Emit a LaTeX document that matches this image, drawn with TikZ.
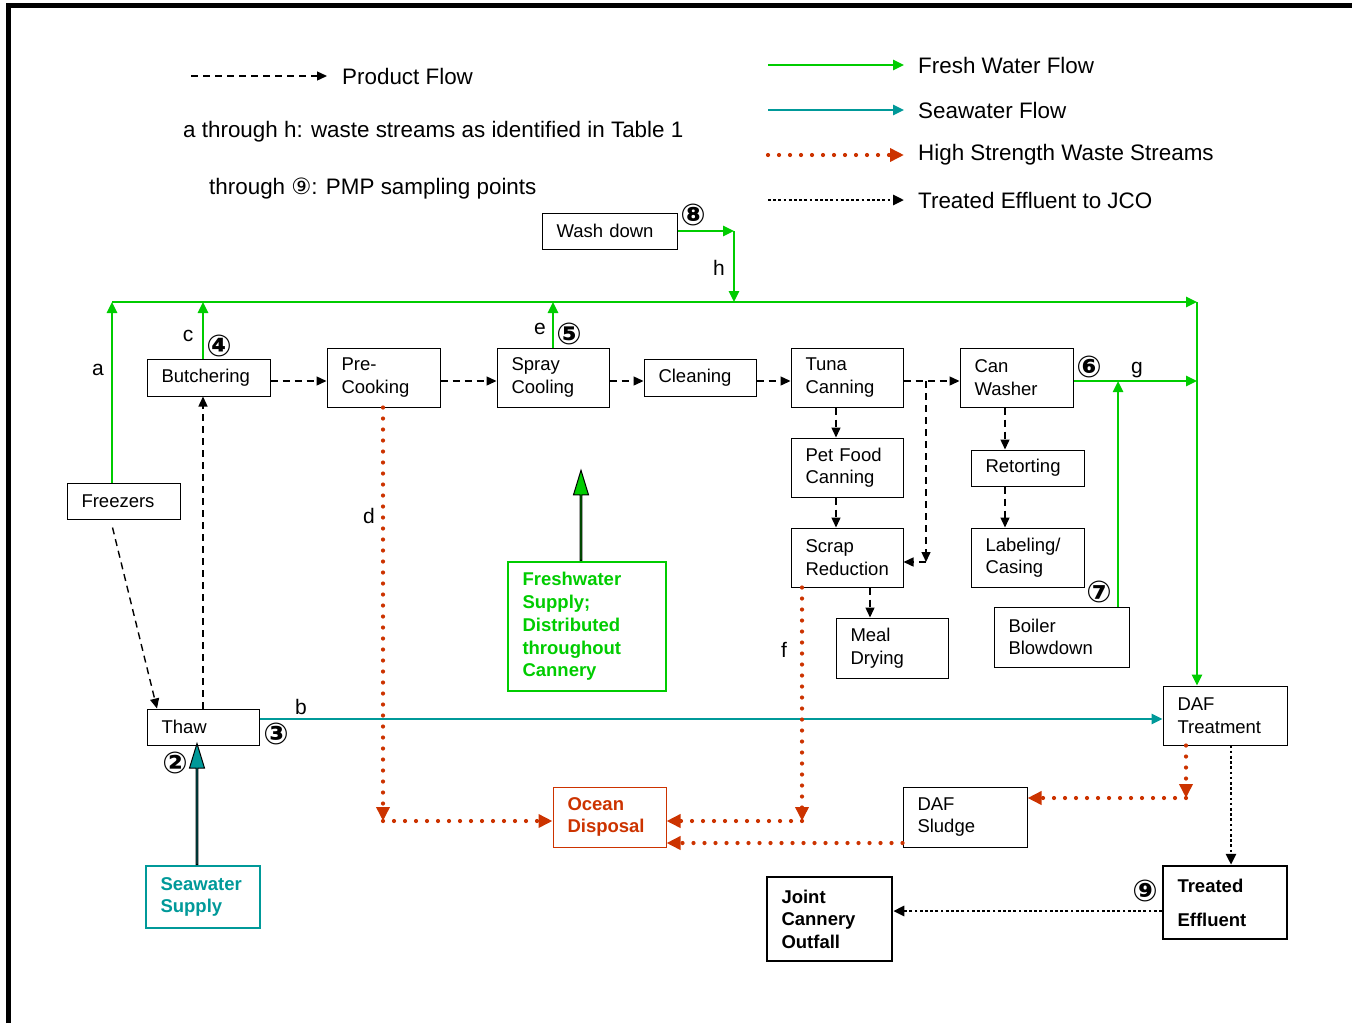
\documentclass[tikz,border=0pt]{standalone}
\usepackage{fontspec}
\setmainfont{Liberation Sans}
\newfontfamily\circfont{DejaVu Sans}
\usetikzlibrary{arrows.meta, positioning, shapes.arrows}

\definecolor{fwgreen}{RGB}{0,204,0}
\definecolor{swteal}{RGB}{0,153,153}
\definecolor{wastered}{RGB}{204,51,0}

\begin{document}
\begin{tikzpicture}[x=1pt, y=-1pt,
  box/.style={draw, line width=1pt, inner xsep=14.5pt, inner ysep=0pt, align=left, font=\fontsize{18.5}{22.5}\selectfont},
  bigbox/.style={box, line width=2.5pt, font=\bfseries\fontsize{18.5}{22.5}\selectfont},
  legtext/.style={inner sep=0pt, anchor=west, font=\fontsize{22.4}{26}\selectfont},
  lbl/.style={inner sep=0pt, font=\fontsize{21}{25}\selectfont},
  num/.style={inner sep=0pt, font=\circfont\bfseries\fontsize{30}{32}\selectfont},
  prodflow/.style={line width=1.4pt, dash pattern=on 7pt off 5pt, -{Triangle[length=10pt,width=9pt]}},
  fwflow/.style={fwgreen, line width=2.5pt, -{Triangle[length=11pt,width=10pt]}},
  swflow/.style={swteal, line width=2.5pt, -{Triangle[length=11pt,width=10pt]}},
  wasteflow/.style={wastered, line width=4.2pt, line cap=round, dash pattern=on 0pt off 11pt, -{Triangle[length=14pt,width=13pt]}},
  effflow/.style={line width=2.7pt, dash pattern=on 2.7pt off 2.5pt, -{Triangle[length=11pt,width=10pt]}},
  supply/.style={single arrow, draw, line width=1pt, shape border rotate=90, anchor=tail, inner sep=0pt, minimum width=15pt, single arrow head extend=4pt, single arrow tip angle=34}
]
\useasboundingbox (0,0) rectangle (1352,1023);
\draw[line width=5pt] (8.5,1023) -- (8.5,5.5) -- (1352,5.5);

% legend
\node[legtext] (lgProd) at (342,76) {Product Flow};
\node[legtext] (lgWaste) at (183,132) {a through h: waste streams as identified in Table 1};
\node[legtext] (lgPoints) at (209,189) {through {\circfont ⑨}: PMP sampling points};
\node[legtext] (lgFresh) at (918,65) {Fresh Water Flow};
\node[legtext] (lgSea) at (918,110) {Seawater Flow};
\node[legtext] (lgHigh) at (918,155) {High Strength Waste Streams};
\node[legtext] (lgTreat) at (918,200) {Treated Effluent to JCO};
\coordinate (lgProdS) at (191,76);
\coordinate (lgFreshS) at (768,65);
\coordinate (lgSeaS) at (768,110);
\coordinate (lgHighS) at (768,155);
\coordinate (lgTreatS) at (768,200);
\draw[prodflow] (lgProdS) -- ([xshift=-15pt]lgProd.west);
\draw[fwflow] (lgFreshS) -- ([xshift=-14pt]lgFresh.west);
\draw[swflow] (lgSeaS) -- ([xshift=-14pt]lgSea.west);
\draw[wasteflow] (lgHighS) -- ([xshift=-14pt]lgHigh.west);
\draw[effflow] (lgTreatS) -- ([xshift=-14pt]lgTreat.west);

% process boxes
\node[box, text width=106pt, minimum height=36pt] (wash) at (609.5,231) {Wash down};
\node[box, text width=94pt, minimum height=37pt] (butch) at (208.5,377.5) {Butchering};
\node[box, text width=84pt, minimum height=59pt] (precook) at (383.5,377.5) {Pre-\\Cooking};
\node[box, text width=83pt, minimum height=59pt] (spray) at (553,377.5) {Spray\\Cooling};
\node[box, text width=83pt, minimum height=37pt] (clean) at (700,377.5) {Cleaning};
\node[box, text width=83pt, minimum height=59pt] (tuna) at (847,377.5) {Tuna\\Canning};
\node[box, text width=84pt, minimum height=59pt] (canw) at (1016.5,377.5) {Can\\Washer};
\node[box, text width=83pt, minimum height=59pt] (petfood) at (847,467.5) {Pet Food\\Canning};
\node[box, text width=84pt, minimum height=36pt] (retort) at (1027.5,468) {Retorting};
\node[box, text width=83pt, minimum height=59pt] (scrap) at (847,557.5) {Scrap\\Reduction};
\node[box, text width=84pt, minimum height=59pt] (label) at (1027.5,557.5) {Labeling/\\Casing};
\node[box, text width=83pt, minimum height=60pt] (meal) at (892,648) {Meal\\Drying};
\node[box, text width=106pt, minimum height=60pt] (boiler) at (1061.5,637) {Boiler\\Blowdown};
\node[box, text width=84pt, minimum height=36pt] (freezers) at (123.5,501) {Freezers};
\node[box, text width=83pt, minimum height=36pt] (thaw) at (203,727) {Thaw};
\node[box, text width=95pt, minimum height=59pt] (daft) at (1225,715.5) {DAF\\Treatment};
\node[box, text width=95pt, minimum height=60pt] (dafs) at (965,817) {DAF\\Sludge};
\node[box, draw=wastered, text=wastered, font=\bfseries\fontsize{18.5}{22.5}\selectfont, text width=84pt, minimum height=60pt] (ocean) at (609.5,817) {Ocean\\Disposal};
\node[box, draw=swteal, line width=2pt, text=swteal, font=\bfseries\fontsize{18.5}{22.5}\selectfont, text width=85pt, minimum height=62pt] (seasup) at (203,897) {Seawater\\Supply};
\node[box, draw=fwgreen, line width=2.5pt, text=fwgreen, font=\bfseries\fontsize{18.5}{22.8}\selectfont, text width=129pt, minimum height=129pt] (fwsup) at (587,626.5) {Freshwater\\Supply;\\Distributed\\throughout\\Cannery};
\node[bigbox, font=\bfseries\fontsize{18.5}{34}\selectfont, text width=95pt, minimum height=73pt] (treated) at (1225,902.5) {Treated\\Effluent};
\node[bigbox, text width=96pt, minimum height=84pt] (jco) at (829.5,919) {Joint\\Cannery\\Outfall};

% supply arrows
\node[supply, fill=swteal, minimum height=121pt] (swarrow) at ([xshift=-6pt]seasup.north) {};
\node[supply, fill=fwgreen, minimum height=90pt] (fwarrow) at ([xshift=-6pt]fwsup.north) {};

% sampling points
\node[num] (p2) at (175,763) {②};
\node[num] (p3) at (276,734) {③};
\node[num] (p4) at (219,346) {④};
\node[num] (p5) at (569,334) {⑤};
\node[num] (p6) at (1089,367) {⑥};
\node[num] (p7) at (1099,592) {⑦};
\node[num] (p8) at (693,215) {⑧};
\node[num] (p9) at (1145,891) {⑨};

% stream letters
\node[lbl] (la) at (98,370) {a};
\node[lbl] (lb) at (301,707) {b};
\node[lbl] (lc) at (188,336) {c};
\node[lbl] (ld) at (369,516) {d};
\node[lbl] (le) at (540,329) {e};
\node[lbl] (lf) at (784,650) {f};
\node[lbl] (lg) at (1137,370) {g};
\node[lbl] (lh) at (719,268) {h};

% junction points
\coordinate (hdrL) at (112,302);
\coordinate (hdrR) at (1197,302);
\coordinate (cTop) at (203,302);
\coordinate (hDrop) at (734,302);
\coordinate (gJoin) at (1118,381);
\coordinate (bLine) at (0,719);
\coordinate (colPet) at (836,0);
\coordinate (colMeal) at (870,0);
\coordinate (colRet) at (1005,0);
\coordinate (brTop) at (926,381);
\coordinate (brBot) at (926,562);
\coordinate (dCorner) at (383,821);
\coordinate (fCorner) at (802,821);
\coordinate (sLine) at (0,843);
\coordinate (tCorner) at (1186,798);
\coordinate (effX) at (1231,0);
\coordinate (jLine) at (0,911);

% fresh water
\draw[fwflow] (hdrL) -- (hdrR);
\draw[fwflow] (hdrR) -- (daft.north -| hdrR);
\draw[fwflow] (freezers.north -| hdrL) -- (hdrL);
\draw[fwflow] (butch.north -| cTop) -- (cTop);
\draw[fwflow] (spray.north) -- (spray.north |- hdrL);
\draw[fwflow] (wash.east) -- (wash.east -| hDrop);
\draw[fwflow] (wash.east -| hDrop) -- (hDrop);
\draw[fwflow] (canw.east |- gJoin) -- (gJoin -| hdrR);
\draw[fwflow] (boiler.north -| gJoin) -- (gJoin);

% seawater
\draw[swflow] (thaw.east |- bLine) -- (daft.west |- bLine);

% product
\draw[prodflow] ([xshift=-11pt,yshift=-8pt]freezers.south) -- ([xshift=-46pt]thaw.north);
\draw[prodflow] (thaw.north -| cTop) -- (butch.south -| cTop);
\draw[prodflow] (butch.east |- brTop) -- (precook.west |- brTop);
\draw[prodflow] (precook.east |- brTop) -- (spray.west |- brTop);
\draw[prodflow] (spray.east |- brTop) -- (clean.west |- brTop);
\draw[prodflow] (clean.east |- brTop) -- (tuna.west |- brTop);
\draw[prodflow] (tuna.east |- brTop) -- (canw.west |- brTop);
\draw[prodflow] (brTop) -- (brBot);
\draw[prodflow] (brBot) -- (scrap.east |- brBot);
\draw[prodflow] (tuna.south -| colPet) -- (petfood.north -| colPet);
\draw[prodflow] (petfood.south -| colPet) -- (scrap.north -| colPet);
\draw[prodflow] (scrap.south -| colMeal) -- (meal.north -| colMeal);
\draw[prodflow] (canw.south -| colRet) -- (retort.north -| colRet);
\draw[prodflow] (retort.south -| colRet) -- (label.north -| colRet);

% high strength waste
\draw[wasteflow] (precook.south -| dCorner) -- (dCorner);
\draw[wasteflow] (dCorner) -- (ocean.west |- dCorner);
\draw[wasteflow] (scrap.south -| fCorner) -- (fCorner);
\draw[wasteflow] (fCorner) -- (ocean.east |- fCorner);
\draw[wasteflow] (dafs.west |- sLine) -- (ocean.east |- sLine);
\draw[wasteflow] (daft.south -| tCorner) -- (tCorner);
\draw[wasteflow] (tCorner) -- (dafs.east |- tCorner);

% treated effluent
\draw[effflow] (daft.south -| effX) -- (treated.north -| effX);
\draw[effflow] (treated.west |- jLine) -- (jco.east |- jLine);
\end{tikzpicture}
\end{document}
